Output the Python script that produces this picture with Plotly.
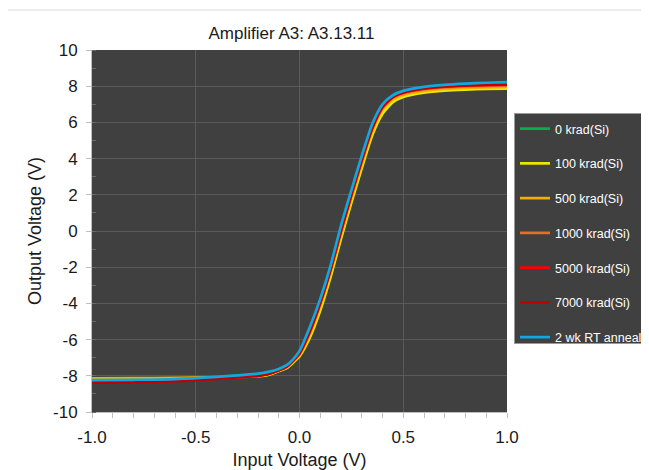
import plotly.graph_objects as go

title_text = "Amplifier A3: A3.13.11"
x_title = "Input Voltage (V)"
y_title = "Output Voltage (V)"

x_tickvals = [-1.0, -0.5, 0.0, 0.5, 1.0]
x_ticktext = ["-1.0", "-0.5", "0.0", "0.5", "1.0"]
y_tickvals = [-10, -8, -6, -4, -2, 0, 2, 4, 6, 8, 10]
y_ticktext = ["-10", "-8", "-6", "-4", "-2", "0", "2", "4", "6", "8", "10"]

X = [-1.0, -0.8, -0.6, -0.4, -0.3, -0.2, -0.15, -0.1, -0.06, -0.03, 0.0, 0.05, 0.1,
     0.15, 0.2, 0.25, 0.3, 0.35, 0.4, 0.45, 0.5, 0.6, 0.7, 0.8, 0.9, 1.0]

names = ["0 krad(Si)", "100 krad(Si)", "500 krad(Si)", "1000 krad(Si)",
         "5000 krad(Si)", "7000 krad(Si)", "2 wk RT anneal"]
colors = ["#00b050", "#e8e800", "#f0b000", "#e07030", "#ff0000", "#c00000", "#10a8e0"]

y_0k = [-8.20, -8.19, -8.17, -8.11, -8.07, -8.02, -7.95, -7.74, -7.55, -7.25, -6.90, -5.85, -4.35,
        -2.50, -0.40, 1.60, 3.50, 5.30, 6.50, 7.15, 7.44, 7.67, 7.78, 7.84, 7.88, 7.90]
y_100k = [-8.18, -8.17, -8.15, -8.10, -8.06, -8.02, -7.95, -7.74, -7.56, -7.26, -6.92, -5.88, -4.38,
          -2.52, -0.42, 1.58, 3.48, 5.28, 6.48, 7.12, 7.41, 7.64, 7.75, 7.81, 7.85, 7.87]
y_500k = [-8.14, -8.13, -8.12, -8.08, -8.05, -8.00, -7.93, -7.72, -7.52, -7.20, -6.84, -5.70, -4.15,
          -2.30, -0.20, 1.80, 3.70, 5.50, 6.70, 7.28, 7.52, 7.74, 7.85, 7.91, 7.94, 7.96]
y_1000k = [-8.30, -8.28, -8.25, -8.14, -8.07, -7.99, -7.90, -7.70, -7.48, -7.16, -6.78, -5.58, -4.00,
           -2.15, -0.05, 1.95, 3.85, 5.62, 6.80, 7.36, 7.60, 7.82, 7.93, 7.98, 8.01, 8.03]
y_5000k = [-8.33, -8.31, -8.27, -8.15, -8.08, -7.99, -7.90, -7.70, -7.48, -7.16, -6.76, -5.55, -3.98,
           -2.12, 0.00, 2.00, 3.90, 5.66, 6.84, 7.40, 7.64, 7.86, 7.97, 8.03, 8.06, 8.08]
y_7000k = [-8.38, -8.35, -8.30, -8.17, -8.09, -8.00, -7.90, -7.70, -7.48, -7.15, -6.75, -5.52, -3.95,
           -2.10, 0.02, 2.02, 3.92, 5.68, 6.86, 7.42, 7.66, 7.88, 7.99, 8.05, 8.08, 8.10]
y_anneal = [-8.24, -8.22, -8.18, -8.06, -7.98, -7.88, -7.78, -7.62, -7.40, -7.08, -6.62, -5.30, -3.75,
            -1.90, 0.30, 2.25, 4.15, 5.90, 7.00, 7.50, 7.74, 7.96, 8.07, 8.14, 8.19, 8.22]

series = [y_0k, y_100k, y_500k, y_1000k, y_5000k, y_7000k, y_anneal]

fig = go.Figure()
for i, (nm, col, ys) in enumerate(zip(names, colors, series)):
    fig.add_trace(go.Scatter(x=X, y=ys, mode="lines", name=nm, legendgroup=f"g{i}",
                             line=dict(color=col, width=2.7, shape="spline", smoothing=0.6)))

FAM = "Liberation Sans, Arial, sans-serif"
tick_font = dict(family=FAM, size=17, color="#1a1a1a")
title_font = dict(family=FAM, size=18, color="#1a1a1a")

# page has an 8px body margin; figure is sized/offset to land on the reference pixels
W, H = 641, 462
L, T, B = 84, 42, 58
PW = 415
R = W - L - PW
PH = H - T - B

fig.update_layout(
    width=W, height=H,
    margin=dict(l=L, r=R, t=T, b=B, autoexpand=False),
    paper_bgcolor="white",
    plot_bgcolor="#404040",
    font=dict(family=FAM, color="#1a1a1a"),
    title=dict(text=title_text, x=283.5 / W, xanchor="center", y=1 - 25 / H, yanchor="middle",
               xref="container", yref="container", font=dict(family=FAM, size=17, color="#1a1a1a")),
    showlegend=True,
    legend=dict(xref="container", yref="container",
                x=(514 - 8) / W, xanchor="left", y=1 - (113 - 8) / H, yanchor="top",
                bgcolor="#404040", bordercolor="#9a9a9a", borderwidth=1,
                font=dict(family=FAM, size=12.5, color="white"),
                traceorder="grouped", tracegroupgap=15.5,
                itemwidth=30),
    xaxis=dict(range=[-1, 1], tickvals=x_tickvals, ticktext=x_ticktext,
               showgrid=True, gridcolor="#5a5a5a", gridwidth=1, zeroline=False,
               showline=True, linecolor="#bfbfbf", linewidth=1, mirror=False,
               ticks="outside", ticklen=5, tickcolor="#bfbfbf", ticklabelstandoff=5,
               minor=dict(dtick=0.1, tick0=-1, ticks="outside", ticklen=5, tickcolor="#bfbfbf", showgrid=False),
               tickfont=tick_font,
               title=dict(text=x_title, font=title_font, standoff=6)),
    yaxis=dict(range=[-10, 10], tickvals=y_tickvals, ticktext=y_ticktext,
               showgrid=True, gridcolor="#5a5a5a", gridwidth=1, zeroline=False,
               showline=True, linecolor="#bfbfbf", linewidth=1,
               ticks="outside", ticklen=5, tickcolor="#bfbfbf", ticklabelstandoff=5,
               minor=dict(dtick=1, tick0=-10, ticks="inside", ticklen=4, tickcolor="#6a6a6a", showgrid=False),
               tickfont=tick_font,
               title=dict(text=y_title, font=title_font, standoff=6)),
    shapes=[dict(type="rect", xref="paper", yref="paper",
                 x0=(5 - 8 - L) / PW, x1=1.5, y0=-0.3, y1=(404 - 2) / PH,
                 line=dict(color="#d9d9d9", width=1), fillcolor="rgba(0,0,0,0)", layer="below")],
)

fig.write_html("out.html")
